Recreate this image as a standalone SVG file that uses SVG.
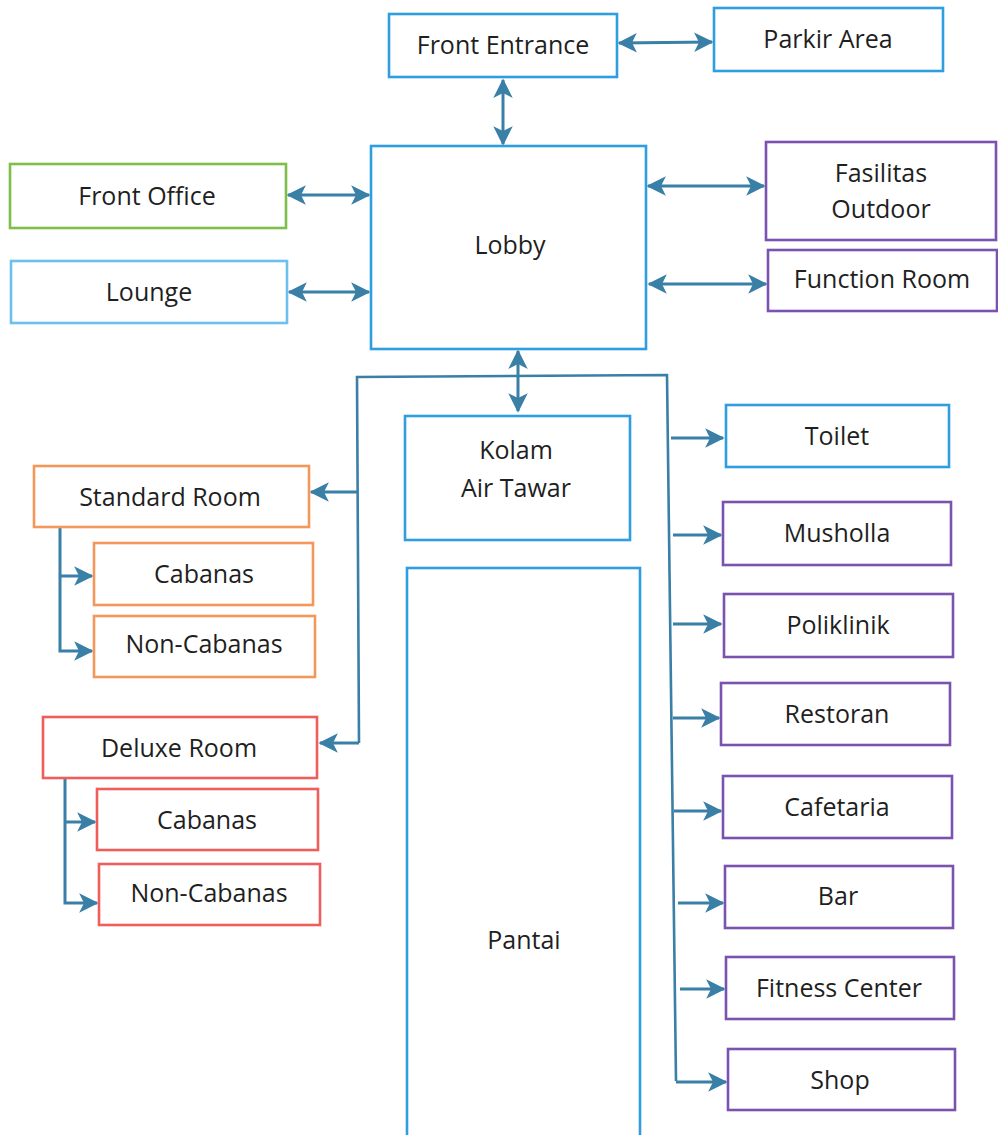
<svg xmlns="http://www.w3.org/2000/svg" width="998" height="1135" viewBox="0 0 998 1135">
  <style>
    .box { fill: #ffffff; stroke-width: 2.6; }
    .blue { stroke: #2e9ee0; }
    .ltblue { stroke: #6cc0ec; }
    .green { stroke: #7cc04a; }
    .purple { stroke: #7a52b0; }
    .orange { stroke: #f4975a; }
    .red { stroke: #ee5f5c; }
    .lbl { font-family: "Open Sans", "Liberation Sans", sans-serif; font-size: 25px; fill: #1f1f1f; text-anchor: middle; dominant-baseline: central; }
    .con { fill: none; stroke: #3a7fa6; stroke-width: 3; }
    .frame { fill: none; stroke: #3a7fa6; stroke-width: 2.6; }
  </style>
  <defs>
    <marker id="head" viewBox="0 0 12 12" refX="11" refY="6" markerWidth="6.5" markerHeight="6.5" orient="auto-start-reverse" markerUnits="strokeWidth">
      <path d="M0,0 L12,6 L0,12 L3,6 Z" fill="#3a7fa6"/>
    </marker>
  </defs>

  <rect width="998" height="1135" fill="#ffffff"/>

  <!-- connectors -->
  <g id="connectors">
    <!-- entrance / parking / lobby -->
    <line class="con" x1="619" y1="43" x2="712" y2="42" marker-start="url(#head)" marker-end="url(#head)"/>
    <line class="con" x1="503" y1="80" x2="503" y2="144" marker-start="url(#head)" marker-end="url(#head)"/>
    <!-- lobby sides -->
    <line class="con" x1="288" y1="195" x2="369" y2="195" marker-start="url(#head)" marker-end="url(#head)"/>
    <line class="con" x1="289" y1="292" x2="369" y2="292" marker-start="url(#head)" marker-end="url(#head)"/>
    <line class="con" x1="648" y1="186" x2="764" y2="186" marker-start="url(#head)" marker-end="url(#head)"/>
    <line class="con" x1="649" y1="284" x2="766" y2="284" marker-start="url(#head)" marker-end="url(#head)"/>
    <!-- lobby to pool -->
    <line class="con" x1="518" y1="351" x2="518" y2="411" marker-start="url(#head)" marker-end="url(#head)"/>

    <!-- beach zone frame -->
    <path class="frame" d="M359,743 L357,377 L667,375 L676,1081"/>

    <!-- rooms branch -->
    <line class="con" x1="358" y1="492" x2="311" y2="492" marker-end="url(#head)"/>
    <line class="con" x1="359" y1="743" x2="320" y2="743" marker-end="url(#head)"/>
    <path class="con" d="M60,528 L60,651 L92,651" marker-end="url(#head)"/>
    <line class="con" x1="60" y1="576" x2="92" y2="576" marker-end="url(#head)"/>
    <path class="con" d="M65,779 L65,903 L97,903" marker-end="url(#head)"/>
    <line class="con" x1="65" y1="822" x2="95" y2="822" marker-end="url(#head)"/>

    <!-- facilities branch -->
    <line class="con" x1="671" y1="438" x2="723" y2="438" marker-end="url(#head)"/>
    <line class="con" x1="673" y1="535" x2="721" y2="535" marker-end="url(#head)"/>
    <line class="con" x1="673" y1="624" x2="721" y2="624" marker-end="url(#head)"/>
    <line class="con" x1="673" y1="718" x2="719" y2="718" marker-end="url(#head)"/>
    <line class="con" x1="674" y1="811" x2="721" y2="811" marker-end="url(#head)"/>
    <line class="con" x1="678" y1="903" x2="723" y2="903" marker-end="url(#head)"/>
    <line class="con" x1="680" y1="989" x2="724" y2="989" marker-end="url(#head)"/>
    <line class="con" x1="676" y1="1082" x2="726" y2="1082" marker-end="url(#head)"/>
  </g>

  <!-- arrival area -->
  <g id="front-entrance">
    <rect class="box blue" x="389" y="14" width="228" height="63"/>
    <text class="lbl" x="503" y="44">Front Entrance</text>
  </g>
  <g id="parkir-area">
    <rect class="box blue" x="714" y="8" width="229" height="63"/>
    <text class="lbl" x="828" y="38">Parkir Area</text>
  </g>
  <g id="lobby">
    <rect class="box blue" x="371" y="146" width="275" height="203"/>
    <text class="lbl" x="510" y="244">Lobby</text>
  </g>
  <g id="front-office">
    <rect class="box green" x="10" y="164" width="276" height="64"/>
    <text class="lbl" x="147" y="195">Front Office</text>
  </g>
  <g id="lounge">
    <rect class="box ltblue" x="11" y="261" width="276" height="62"/>
    <text class="lbl" x="149" y="291">Lounge</text>
  </g>
  <g id="fasilitas-outdoor">
    <rect class="box purple" x="766" y="142" width="230" height="98"/>
    <text class="lbl" x="881" y="172">Fasilitas</text>
    <text class="lbl" x="881" y="208">Outdoor</text>
  </g>
  <g id="function-room">
    <rect class="box purple" x="768" y="250" width="229" height="61"/>
    <text class="lbl" x="882" y="278">Function Room</text>
  </g>

  <!-- beach zone -->
  <g id="kolam-air-tawar">
    <rect class="box blue" x="405" y="416" width="225" height="124"/>
    <text class="lbl" x="516" y="449">Kolam</text>
    <text class="lbl" x="516" y="487">Air Tawar</text>
  </g>
  <g id="pantai">
    <rect class="box blue" x="407" y="568" width="233" height="580"/>
    <text class="lbl" x="524" y="939">Pantai</text>
  </g>

  <!-- rooms -->
  <g id="standard-room">
    <rect class="box orange" x="34" y="466" width="275" height="61"/>
    <text class="lbl" x="170" y="496">Standard Room</text>
  </g>
  <g id="standard-cabanas">
    <rect class="box orange" x="94" y="543" width="219" height="62"/>
    <text class="lbl" x="204" y="573">Cabanas</text>
  </g>
  <g id="standard-non-cabanas">
    <rect class="box orange" x="94" y="616" width="221" height="61"/>
    <text class="lbl" x="204" y="643">Non-Cabanas</text>
  </g>
  <g id="deluxe-room">
    <rect class="box red" x="43" y="717" width="274" height="61"/>
    <text class="lbl" x="179" y="747">Deluxe Room</text>
  </g>
  <g id="deluxe-cabanas">
    <rect class="box red" x="97" y="789" width="221" height="61"/>
    <text class="lbl" x="207" y="819">Cabanas</text>
  </g>
  <g id="deluxe-non-cabanas">
    <rect class="box red" x="99" y="864" width="221" height="61"/>
    <text class="lbl" x="209" y="892">Non-Cabanas</text>
  </g>

  <!-- facilities -->
  <g id="toilet">
    <rect class="box blue" x="726" y="405" width="223" height="62"/>
    <text class="lbl" x="837" y="435">Toilet</text>
  </g>
  <g id="musholla">
    <rect class="box purple" x="723" y="502" width="228" height="63"/>
    <text class="lbl" x="837" y="532">Musholla</text>
  </g>
  <g id="poliklinik">
    <rect class="box purple" x="724" y="594" width="229" height="63"/>
    <text class="lbl" x="838" y="624">Poliklinik</text>
  </g>
  <g id="restoran">
    <rect class="box purple" x="721" y="683" width="229" height="62"/>
    <text class="lbl" x="837" y="713">Restoran</text>
  </g>
  <g id="cafetaria">
    <rect class="box purple" x="723" y="776" width="229" height="62"/>
    <text class="lbl" x="837" y="806">Cafetaria</text>
  </g>
  <g id="bar">
    <rect class="box purple" x="725" y="866" width="228" height="62"/>
    <text class="lbl" x="838" y="895">Bar</text>
  </g>
  <g id="fitness-center">
    <rect class="box purple" x="726" y="957" width="228" height="62"/>
    <text class="lbl" x="839" y="987">Fitness Center</text>
  </g>
  <g id="shop">
    <rect class="box purple" x="728" y="1049" width="227" height="61"/>
    <text class="lbl" x="840" y="1079">Shop</text>
  </g>
</svg>
